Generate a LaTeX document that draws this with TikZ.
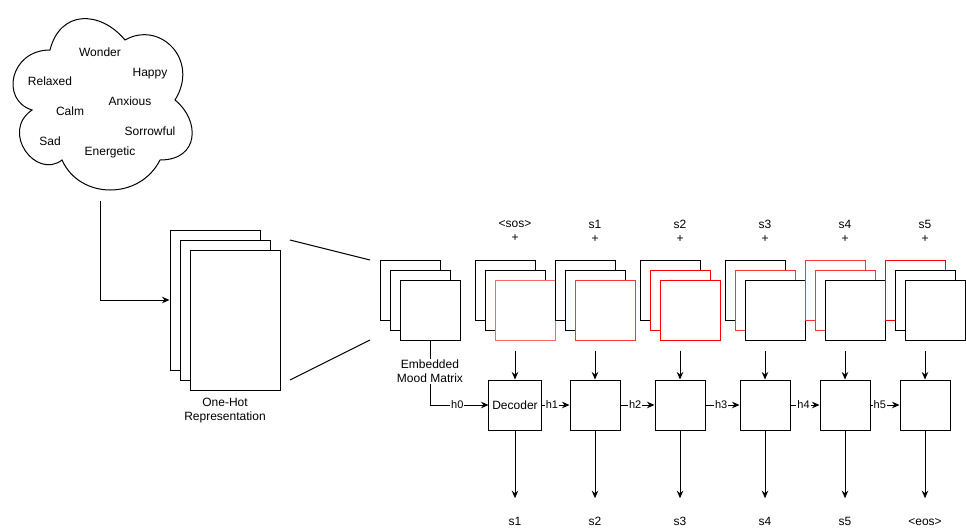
\documentclass[tikz,border=0pt]{standalone}
\usepackage{fontspec}
\setmainfont{Liberation Sans}
\usepackage{tikz}
\usetikzlibrary{arrows.meta,calc,positioning}
\definecolor{redA}{HTML}{FF6666}
\definecolor{redB}{HTML}{FF3333}
\definecolor{redC}{HTML}{FF0000}
\tikzset{%
	sheet/.style  = {draw, fill=white, rectangle, minimum width=90pt, minimum height=140pt}, % one-hot page
	layer/.style  = {draw, fill=white, rectangle, minimum width=60pt, minimum height=60pt}, % embedding page
	cell/.style   = {draw, rectangle, minimum width=50pt, minimum height=50pt}, % decoder step
	word/.style   = {inner sep=1pt, text height=8.6pt, text depth=0pt}, % text
	hlabel/.style = {fill=white, inner sep=1pt, font=\fontsize{11pt}{13pt}\selectfont}, % edge label
}
\begin{document}
\begin{tikzpicture}[x=1pt, y=-1pt, line width=1pt, >={Stealth[length=7.5pt,width=6.5pt]}, font=\fontsize{12pt}{14pt}\selectfont]
		\useasboundingbox (0,0) rectangle (966,531);
		% mood cloud
		\node[minimum width=200pt, minimum height=200pt, inner sep=0pt] (cloud) at (100,100) {};
		\draw (50,50) .. controls (10,50) and (0,100) .. (32,110)
			.. controls (0,132) and (36,180) .. (62,160)
			.. controls (80,200) and (140,200) .. (160,160)
			.. controls (200,160) and (200,120) .. (175,100)
			.. controls (200,60) and (160,20) .. (125,40)
			.. controls (100,10) and (60,10) .. (50,50) -- cycle;
		\node[word] (wonder) at (100,52) {Wonder};
		\node[word] (happy) at (150,72) {Happy};
		\node[word] (relaxed) at (50,81) {Relaxed};
		\node[word] (anxious) at (130,101) {Anxious};
		\node[word] (calm) at (70,111) {Calm};
		\node[word] (sorrowful) at (150,131) {Sorrowful};
		\node[word] (sad) at (50,141) {Sad};
		\node[word] (energetic) at (110,151) {Energetic};
		% one-hot
		\node[sheet] (oh1) at (215,300) {};
		\node[sheet] (oh2) at (225,310) {};
		\node[sheet] (oh3) at (235,320) {};
		\node[align=center] (ohtext) at (225,411) {One-Hot\\Representation};
		\draw[->] (cloud.south) |- (oh1.west);
		% zoom lines
		\coordinate (za) at (290,240);
		\coordinate (zb) at (370,260);
		\coordinate (zc) at (290,380);
		\coordinate (zd) at (370,340);
		\draw (za) -- (zb);
		\draw (zc) -- (zd);
		% embedded mood matrix
		\node[layer] (em1) at (410,290) {};
		\node[layer] (em2) at (420,300) {};
		\node[layer] (em3) at (430,310) {};
		% decoder steps
		\foreach \i/\x/\cb/\cm/\cf/\tok/\res/\lbl in {%
			1/515/black/black/redA/{<sos>}/s1/Decoder,
			2/595/black/black/redB/s1/s2/{},
			3/680/black/redC/redC/s2/s3/{},
			4/765/black/redB/black/s3/s4/{},
			5/845/redB/redB/black/s4/s5/{},
			6/925/redC/black/black/s5/{<eos>}/{}}{
			\node[layer, draw=\cb] (b\i) at (\x-10,290) {};
			\node[layer, draw=\cm] (m\i) at (\x,300) {};
			\node[layer, draw=\cf] (f\i) at (\x+10,310) {};
			\node[align=center] (tok\i) at (\x,231) {\tok\\+};
			\node[cell] (dec\i) at (\x,405) {\lbl};
			\node[word] (res\i) at (\x,521) {\res};
			\draw[->, shorten <=10pt] (f\i.south -| dec\i.north) -- (dec\i.north);
			\draw[->, shorten >=17pt] (dec\i) -- (res\i);
		}
		\draw[->] (em3.south) |- node[hlabel, align=center, pos=0.238, font=\fontsize{12pt}{14pt}\selectfont] {Embedded\\Mood Matrix}
			node[hlabel, pos=0.733] {h0} (dec1.west);
		\draw[->] (dec1) -- node[hlabel, pos=0.37] {h1} (dec2);
		\draw[->] (dec2) -- node[hlabel, pos=0.43] {h2} (dec3);
		\draw[->] (dec3) -- node[hlabel, pos=0.46] {h3} (dec4);
		\draw[->] (dec4) -- node[hlabel, pos=0.45] {h4} (dec5);
		\draw[->] (dec5) -- node[hlabel, pos=0.32] {h5} (dec6);
		\end{tikzpicture}
\end{document}
